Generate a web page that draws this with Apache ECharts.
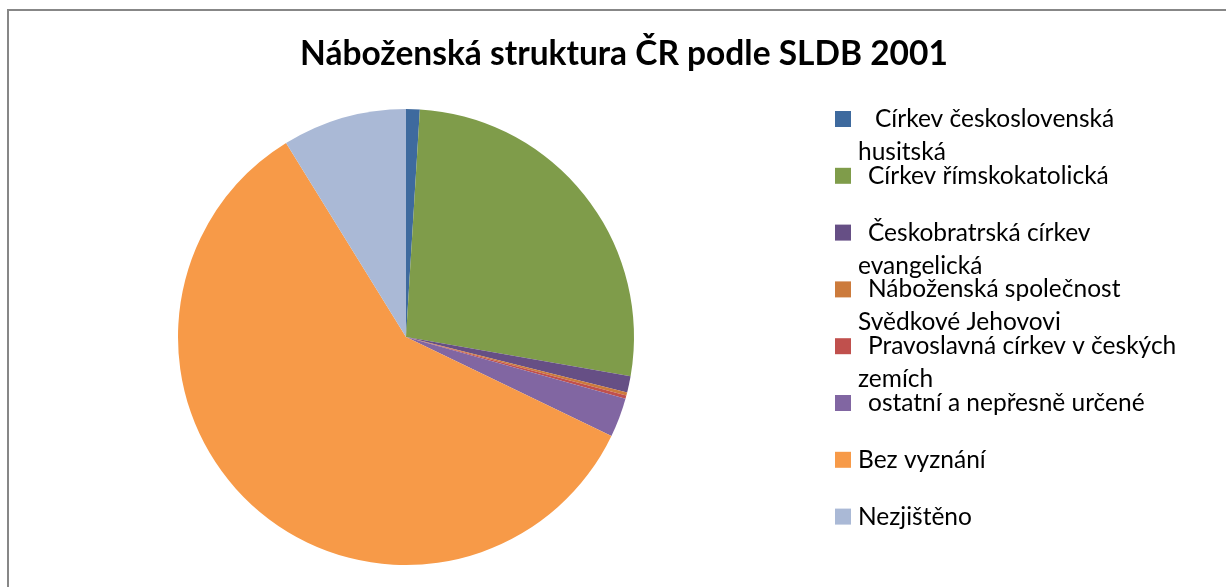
<!DOCTYPE html>
<html>
<head>
<meta charset="utf-8">
<script src="https://cdn.jsdelivr.net/npm/echarts@6/dist/echarts.min.js"></script>
<style>
  html, body { margin: 0; padding: 0; background: #ffffff; }
  #chart { width: 1226px; height: 587px; }
</style>
</head>
<body>
<div id="chart"></div>
<script>
const categories = [
  'Církev československá husitská',
  'Církev římskokatolická',
  'Českobratrská církev evangelická',
  'Náboženská společnost Svědkové Jehovovi',
  'Pravoslavná církev v českých zemích',
  'ostatní a nepřesně určené',
  'Bez vyznání',
  'Nezjištěno'
];
const values = [99103, 2740780, 117212, 23162, 22968, 284861, 6039991, 901981];
const legendFirstLine = [
  'Církev československá',
  'Církev římskokatolická',
  'Českobratrská církev',
  'Náboženská společnost',
  'Pravoslavná církev v českých',
  'ostatní a nepřesně určené',
  'Bez vyznání',
  'Nezjištěno'
];
const legendSecondLine = ['husitská', '', 'evangelická', 'Svědkové Jehovovi', 'zemích', '', '', ''];
const legendIndent = ['a1', 'a', 'a', 'a', 'a', 'a', 'b', 'b'];
const colors = ['#3E6A9E', '#7F9C4A', '#664F85', '#CC7B3C', '#C0504D', '#8166A2', '#F79A48', '#AAB9D6'];
const title = 'Náboženská struktura ČR podle SLDB 2001';

const FONT = 'Lato, "Open Sans", sans-serif';
const chart = echarts.init(document.getElementById('chart'), null, { renderer: 'canvas' });

const seriesData = categories.map((c, i) => ({ name: c, value: values[i], itemStyle: { color: colors[i] } }));

const richBase = { fontFamily: FONT, fontSize: 24.5, color: '#000', lineHeight: 33 };

chart.setOption({
  backgroundColor: '#ffffff',
  animation: false,
  title: {
    text: title,
    left: 295,
    top: 32,
    textStyle: { fontFamily: FONT, fontWeight: 'bold', fontSize: 33.5, color: '#000000' }
  },
  graphic: [{
    type: 'rect',
    shape: { x: 8, y: 10, width: 1240, height: 600 },
    style: { fill: 'none', stroke: '#878787', lineWidth: 2 },
    silent: true
  }],
  legend: {
    orient: 'vertical',
    left: 830,
    top: 68.5,
    height: 700,
    itemWidth: 16,
    itemHeight: 16,
    itemGap: -34.2,
    icon: 'rect',
    selectedMode: false,
    data: categories,
    formatter: function (name) {
      const i = categories.indexOf(name);
      const style = legendIndent[i];
      const second = legendSecondLine[i] ? '{c|' + legendSecondLine[i] + '}' : '{c| }';
      return '{c| }\n{' + style + '|' + legendFirstLine[i] + '}\n' + second;
    },
    textStyle: {
      fontFamily: FONT,
      fontSize: 24.5,
      color: '#000000',
      rich: {
        a1: Object.assign({}, richBase, { padding: [0, 0, 0, 19] }),
        a: Object.assign({}, richBase, { padding: [0, 0, 0, 12] }),
        b: Object.assign({}, richBase, { padding: [0, 0, 0, 2] }),
        c: Object.assign({}, richBase, { padding: [0, 0, 0, 2] })
      }
    }
  },
  series: [{
    type: 'pie',
    center: [406, 337],
    radius: 228,
    startAngle: 90,
    clockwise: true,
    label: { show: false },
    labelLine: { show: false },
    emphasis: { disabled: true },
    itemStyle: { borderWidth: 0 },
    data: seriesData
  }]
});
</script>
</body>
</html>
